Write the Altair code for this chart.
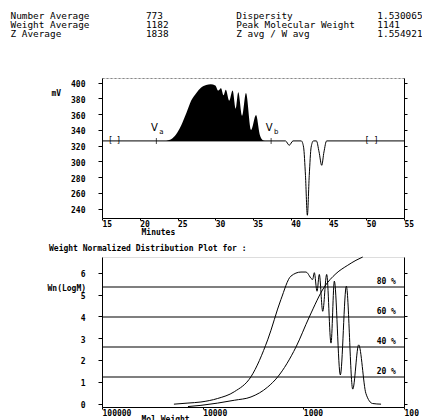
import altair as alt
import pandas as pd

# ---------------- header values ----------------
hdr_left_labels = ["Number Average", "Weight Average", "Z Average"]
hdr_left_values = ["773", "1182", "1838"]
hdr_right_labels = ["Dispersity", "Peak Molecular Weight", "Z avg / W avg"]
hdr_right_values = ["1.530065", "1141", "1.554921"]

# ---------------- chromatogram (top) ----------------
baseline_mv = 326
area_min = [23.5, 24.3, 25.0, 25.5, 26.2, 26.8, 27.5, 28.1, 28.8, 29.4, 30.0, 30.4, 30.76,
            31.1, 31.4, 31.85, 32.3, 32.7, 33.05, 33.55, 34.07, 34.75, 35.4, 35.9, 36.3, 36.6]
area_mv = [326, 329, 337, 346, 362, 377, 387, 393.5, 397, 398, 396.5, 390, 393,
           384, 391, 377, 390, 367, 388, 358, 387, 340, 359, 334, 327, 326]

line_min = [15, 39.3, 39.8, 40.3, 41.4, 41.7, 41.95, 42.2, 42.45, 42.7, 43.0,
            43.4, 43.75, 44.1, 44.4, 44.75, 55]
line_mv = [326, 326, 320.5, 326, 326, 318, 282, 231.5, 282, 318, 326,
           326, 312, 295, 312, 326, 326]

marker_min = [22.2, 37.4]
marker_main = ["V", "V"]
marker_sub = ["a", "b"]
bracket_min = [16.1, 17.2, 50.1, 51.3]
bracket_txt = ["[", "]", "[", "]"]

# ---------------- distribution (bottom) ----------------
dist_mw = [19300, 14000, 10400, 7100, 4850, 3310, 2260, 1670, 1330, 1055, 942, 808, 778,
           731, 694, 642, 586, 531, 492, 429, 374, 323, 282, 239, 205, 169]
dist_wn = [-0.03, 0.02, 0.07, 0.23, 0.54, 1.23, 2.92, 4.77, 5.84, 6.03, 6.03, 5.69, 6.0,
           5.15, 5.92, 4.23, 5.92, 2.77, 5.61, 1.31, 5.38, 0.66, 2.69, 0.46, 0.0, -0.03]

cum_mw = [14000, 10400, 4850, 3310, 2260, 1800, 1183, 873, 619, 474, 362, 300, 257]
cum_pct = [0.3, 1.1, 4.5, 6.7, 13.3, 20, 40, 60, 80, 88.9, 94.5, 97.8, 100]

pct_lines = [20, 40, 60, 80]
pct_label_mw = 150

Y_LO, Y_HI = -0.16, 6.72

FONT = "DejaVu Sans Mono"
W = 302
NB = "\u00a0"

# ---------- header text ----------
header_lines = [
    (f"{a:<24}{b:<16}{c:<25}{d}").replace(" ", NB)
    for a, b, c, d in zip(hdr_left_labels, hdr_left_values, hdr_right_labels, hdr_right_values)
]

# ---------- top panel ----------
xs_top = alt.Scale(domain=[15, 55], nice=False, zero=False)
ys_top = alt.Scale(domain=[228, 406], nice=False, zero=False)

area_df = pd.DataFrame({"min": area_min, "mv": area_mv, "base": baseline_mv})
line_df = pd.DataFrame({"min": line_min, "mv": line_mv})
mark_df = pd.DataFrame({"min": marker_min, "main": marker_main, "sub": marker_sub,
                        "base": baseline_mv})
br_df = pd.DataFrame({"min": bracket_min, "t": bracket_txt, "base": baseline_mv})

lab = dict(labelFont=FONT, labelFontSize=8, labelFontWeight="bold", labelColor="black",
           titleFont=FONT, titleFontSize=8, titleFontWeight="bold", titleColor="black")

area = alt.Chart(area_df).mark_area(color="black", interpolate="monotone").encode(
    x=alt.X("min:Q", scale=xs_top,
            axis=alt.Axis(values=list(range(15, 56, 5)), title="Minutes", labelAlign="left",
                          labelPadding=0, tickSize=2, domainColor="black", tickColor="black",
                          titleX=39, titleY=14, titleAlign="left", titleBaseline="middle",
                          grid=False, **lab)),
    y=alt.Y("mv:Q", scale=ys_top,
            axis=alt.Axis(values=list(range(240, 401, 20)), title="mV", titleAngle=0,
                          titleX=-51, titleY=15, titleAlign="left", titleBaseline="middle",
                          tickSize=4, labelPadding=13, labelOffset=2, domainColor="black",
                          tickColor="black", grid=False, **lab)),
    y2="base:Q",
)

line = alt.Chart(line_df).mark_line(color="black", strokeWidth=1, interpolate="monotone").encode(
    x=alt.X("min:Q", scale=xs_top,
            axis=alt.Axis(orient="top", labels=False, ticks=False, title=None, grid=False,
                          domainColor="#888888", domainDash=[2, 2])),
    y=alt.Y("mv:Q", scale=ys_top,
            axis=alt.Axis(orient="right", labels=False, title=None, tickSize=3, grid=False,
                          values=list(range(240, 401, 20)), domainColor="black",
                          tickColor="black")),
)

ticks = alt.Chart(mark_df).mark_tick(color="black", orient="vertical", size=6, thickness=1).encode(
    x=alt.X("min:Q", scale=xs_top, axis=None),
    y=alt.Y("base:Q", scale=ys_top, axis=None),
)
vmain = alt.Chart(mark_df).mark_text(font="DejaVu Sans", fontSize=10, dx=-2, dy=-13,
                                     fill="black").encode(
    x=alt.X("min:Q", scale=xs_top, axis=None),
    y=alt.Y("base:Q", scale=ys_top, axis=None),
    text="main:N",
)
vsub = alt.Chart(mark_df).mark_text(font="DejaVu Sans", fontSize=7, dx=5, dy=-9,
                                    fill="black").encode(
    x=alt.X("min:Q", scale=xs_top, axis=None),
    y=alt.Y("base:Q", scale=ys_top, axis=None),
    text="sub:N",
)
brackets = alt.Chart(br_df).mark_text(font=FONT, fontSize=8, fill="black").encode(
    x=alt.X("min:Q", scale=xs_top, axis=None),
    y=alt.Y("base:Q", scale=ys_top, axis=None),
    text="t:N",
)

top = alt.layer(area, line, ticks, vmain, vsub, brackets).resolve_axis(
    x="independent", y="independent"
).properties(width=W, height=140)

# ---------- bottom panel ----------
xs_bot = alt.Scale(type="log", domain=[100, 100000], reverse=True, nice=False)
ys_bot = alt.Scale(domain=[Y_LO, Y_HI], nice=False, zero=False)

dist_df = pd.DataFrame({"mw": dist_mw, "wn": dist_wn})
cum_df = pd.DataFrame({"mw": cum_mw, "pct": cum_pct})
pct_df = pd.DataFrame({"pct": pct_lines, "mw": pct_label_mw,
                       "label": [f"{p}{NB}%" for p in pct_lines]})
to_y = f"{Y_LO} + datum.pct / 100 * ({Y_HI} - ({Y_LO}))"

dist = alt.Chart(dist_df).mark_line(color="black", strokeWidth=1, interpolate="monotone").encode(
    x=alt.X("mw:Q", scale=xs_bot,
            axis=alt.Axis(values=[100000, 10000, 1000, 100], format="d", labelAlign="left",
                          title="Mol Weight", titleX=39, titleY=8, titleAlign="left",
                          titleBaseline="top", tickSize=2, labelPadding=0, labelOverlap=False,
                          domainColor="black", tickColor="black", grid=False, **lab)),
    y=alt.Y("wn:Q", scale=ys_bot,
            axis=alt.Axis(values=list(range(0, 7)), title="Wn(LogM)", titleAngle=0,
                          titleX=-55, titleY=31, titleAlign="left", titleBaseline="middle",
                          tickSize=4, labelPadding=13, labelOffset=2, domainColor="black",
                          tickColor="black", grid=False, **lab)),
)

cum = alt.Chart(cum_df).mark_line(color="black", strokeWidth=1, interpolate="monotone").transform_calculate(
    y=to_y
).encode(
    x=alt.X("mw:Q", scale=xs_bot, axis=None),
    y=alt.Y("y:Q", scale=ys_bot,
            axis=alt.Axis(orient="right", labels=False, title=None, tickSize=3, grid=False,
                          values=list(range(0, 7)), domainColor="black", tickColor="black")),
)

rules = alt.Chart(pct_df).mark_rule(color="black", strokeWidth=1.2).transform_calculate(
    y=to_y
).encode(y=alt.Y("y:Q", scale=ys_bot, axis=None))

rule_labels = alt.Chart(pct_df).mark_text(font=FONT, fontSize=8, fontWeight="bold",
                                          fill="black", dy=-5).transform_calculate(
    y=to_y
).encode(
    x=alt.X("mw:Q", scale=xs_bot, axis=None),
    y=alt.Y("y:Q", scale=ys_bot, axis=None),
    text="label:N",
)

bottom = alt.layer(dist, rules, cum, rule_labels).resolve_axis(
    x="independent", y="independent"
).properties(
    width=W, height=150,
    title=alt.TitleParams("Weight Normalized Distribution Plot for :", anchor="start",
                          frame="group", dx=-53, font=FONT, fontSize=8, fontWeight="bold",
                          color="black", offset=2),
)

chart = alt.vconcat(top, bottom, spacing=7).properties(
    title=alt.TitleParams(header_lines, anchor="start", font=FONT, fontSize=9.4,
                          fontWeight="normal", lineHeight=9.3, color="black", dx=-36,
                          offset=38),
    padding={"left": 2, "top": 2, "right": -1, "bottom": 0},
).configure_view(stroke="black", strokeWidth=1).configure(background="white")

chart.save("out.html", embed_options={"renderer": "svg", "actions": False})
